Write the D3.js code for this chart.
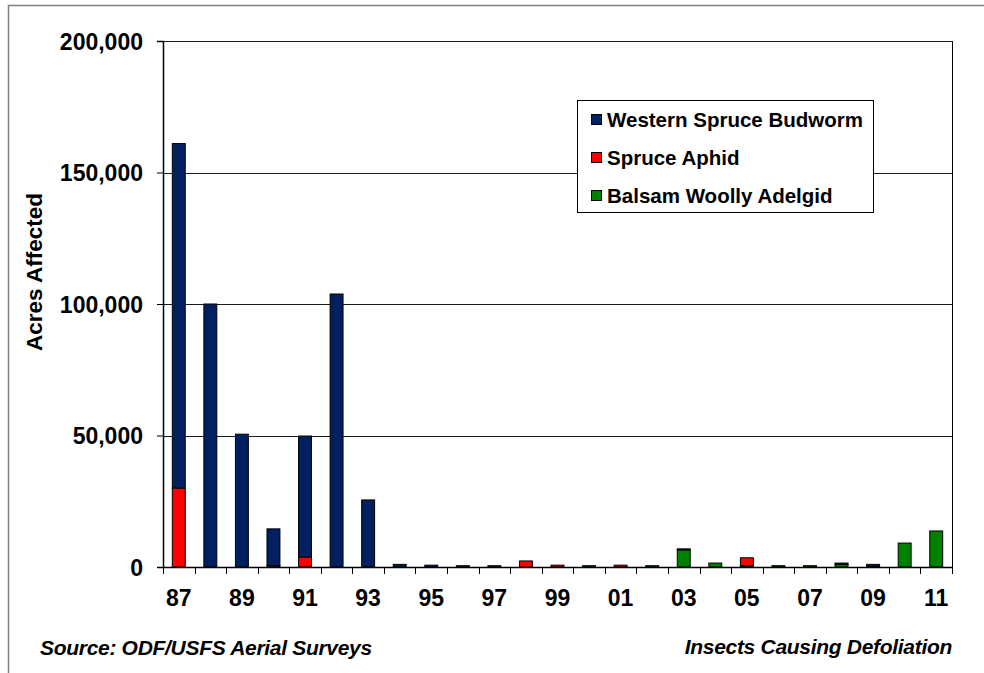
<!DOCTYPE html>
<head>
  <meta charset="utf-8">
  <title>Insects Causing Defoliation</title>
  <script src="https://d3js.org/d3.v7.min.js"></script>
  <style>
    body { margin: 0; background: #fff; }
    text { font-family: Arial, "Liberation Sans", sans-serif; fill: #000; }
  </style>
</head>
<body>
  <div id="root"></div>
  <script>
    // Years 1987 - 2011, shown as two digit labels
    var years = ["87","88","89","90","91","92","93","94","95","96","97","98","99",
                 "00","01","02","03","04","05","06","07","08","09","10","11"];

    // Acres affected, one value per year
    var westernSpruceBudworm = [131000, 100000, 50500, 14000, 46000, 103800, 25500, 1000, 700, 0, 0, 0, 0,
                                0, 0, 0, 400, 0, 0, 0, 0, 500, 700, 0, 0];
    var spruceAphid = [30000, 0, 0, 500, 3800, 0, 0, 0, 0, 0, 0, 2300, 700,
                       0, 700, 0, 0, 0, 3000, 0, 0, 0, 0, 0, 0];
    var balsamWoollyAdelgid = [0, 0, 0, 0, 0, 0, 0, 0, 0, 500, 500, 0, 0,
                               500, 0, 500, 6500, 1500, 500, 500, 500, 1000, 300, 9100, 13700];

    var seriesNames = ["Western Spruce Budworm", "Spruce Aphid", "Balsam Woolly Adelgid"];
    var yTicks = [0, 50000, 100000, 150000, 200000];

    // stacking order: adelgid at the bottom, budworm on top
    var stackKeys = ["bwa", "sa", "wsb"];
    var colors = { wsb: "#002060", sa: "#ff0000", bwa: "#008000" };

    var table = years.map(function(y, i) {
      return { year: y, wsb: westernSpruceBudworm[i], sa: spruceAphid[i], bwa: balsamWoollyAdelgid[i] };
    });

    var W = 984, H = 673;
    var margin = {top: 41, right: 32, bottom: 106, left: 163},
        width = 952 - margin.left,
        height = 567 - margin.top;

    var svg = d3.select("#root")
      .append("svg")
        .attr("width", W)
        .attr("height", H);

    // outer frame
    svg.append("rect")
      .attr("x", 8.5).attr("y", 5.5)
      .attr("width", 990).attr("height", 700)
      .style("fill", "none")
      .style("stroke", "#7f7f7f")
      .style("stroke-width", 1.5);

    var g = svg.append("g")
      .attr("transform", "translate(" + margin.left + "," + margin.top + ")");

    // ---------------------------//
    //       AXIS  AND SCALE      //
    // ---------------------------//
    var x = d3.scaleBand()
      .domain(years)
      .range([0, width])
      .paddingInner(0.59)
      .paddingOuter(0.295);

    var y = d3.scaleLinear()
      .domain([0, 200000])
      .range([height, 0]);

    // gridlines
    g.append("g")
      .selectAll("line")
      .data(yTicks.filter(function(d) { return d > 0; }))
      .enter()
      .append("line")
        .attr("x1", 0)
        .attr("x2", width)
        .attr("y1", function(d) { return Math.round(y(d)) + 0.5; })
        .attr("y2", function(d) { return Math.round(y(d)) + 0.5; })
        .style("stroke", "#1a1a1a")
        .style("stroke-width", 1);

    // right border of plot area
    g.append("line")
      .attr("x1", width + 0.5).attr("x2", width + 0.5)
      .attr("y1", 0).attr("y2", height)
      .style("stroke", "#000");

    // Y axis
    var yAxis = g.append("g")
      .call(d3.axisLeft(y).tickValues(yTicks).tickFormat(d3.format(",")).tickSize(6).tickPadding(14));
    yAxis.select(".domain").style("stroke", "#000").style("stroke-width", 1.5);
    yAxis.selectAll(".tick line").style("stroke", "#000");
    yAxis.selectAll("text")
      .style("font-size", "23px")
      .style("font-weight", "bold")
      .attr("dy", "0.36em");

    // bars
    var stacked = d3.stack().keys(stackKeys)(table);

    g.append("g")
      .selectAll("g")
      .data(stacked)
      .enter()
      .append("g")
        .style("fill", function(d) { return colors[d.key]; })
      .selectAll("rect")
      .data(function(d) { return d; })
      .enter()
      .filter(function(d) { return d[1] > d[0]; })
      .append("rect")
        .attr("x", function(d) { return x(d.data.year); })
        .attr("y", function(d) { return y(d[1]); })
        .attr("width", x.bandwidth())
        .attr("height", function(d) { return y(d[0]) - y(d[1]); })
        .style("stroke", "#000")
        .style("stroke-width", 1);

    // X axis: ticks between categories, labels every other year
    var xAxisG = g.append("g")
      .attr("transform", "translate(0," + height + ")");
    xAxisG.append("line")
      .attr("x1", 0).attr("x2", width)
      .attr("y1", 0.5).attr("y2", 0.5)
      .style("stroke", "#000")
      .style("stroke-width", 1.5);
    var step = x.step();
    xAxisG.selectAll(".xtick")
      .data(d3.range(years.length + 1))
      .enter()
      .append("line")
        .attr("x1", function(i) { return Math.round(i * step) + 0.5; })
        .attr("x2", function(i) { return Math.round(i * step) + 0.5; })
        .attr("y1", 0).attr("y2", 7)
        .style("stroke", "#000");
    xAxisG.selectAll(".xlabel")
      .data(years.filter(function(d, i) { return i % 2 === 0; }))
      .enter()
      .append("text")
        .attr("x", function(d) { return x(d) + x.bandwidth() / 2; })
        .attr("y", 39)
        .attr("text-anchor", "middle")
        .style("font-size", "23px")
        .style("font-weight", "bold")
        .text(function(d) { return d; });

    // Y axis label
    svg.append("text")
      .attr("transform", "translate(42,272) rotate(-90)")
      .attr("text-anchor", "middle")
      .style("font-size", "22.5px")
      .style("font-weight", "bold")
      .text("Acres Affected");

    // ---------------------------//
    //       LEGEND               //
    // ---------------------------//
    var legend = svg.append("g").attr("transform", "translate(577,100)");
    legend.append("rect")
      .attr("x", 0.5).attr("y", 0.5)
      .attr("width", 296).attr("height", 112)
      .style("fill", "#fff")
      .style("stroke", "#000");
    var legendKeys = ["wsb", "sa", "bwa"];
    legend.selectAll("rect.sw")
      .data(legendKeys)
      .enter()
      .append("rect")
        .attr("class", "sw")
        .attr("x", 14.5)
        .attr("y", function(d, i) { return 14.5 + i * 38; })
        .attr("width", 10)
        .attr("height", 10)
        .style("fill", function(d) { return colors[d]; })
        .style("stroke", "#000");
    legend.selectAll("text")
      .data(seriesNames)
      .enter()
      .append("text")
        .attr("x", 30)
        .attr("y", function(d, i) { return 27 + i * 38; })
        .style("font-size", "20.5px")
        .style("font-weight", "bold")
        .text(function(d) { return d; });

    // footer notes
    svg.append("text")
      .attr("x", 40).attr("y", 655)
      .style("font-size", "21px")
      .style("font-weight", "bold")
      .style("font-style", "italic")
      .style("letter-spacing", "-0.3px")
      .text("Source: ODF/USFS Aerial Surveys");
    svg.append("text")
      .attr("x", 952).attr("y", 654)
      .attr("text-anchor", "end")
      .style("font-size", "21px")
      .style("font-weight", "bold")
      .style("font-style", "italic")
      .style("letter-spacing", "-0.3px")
      .text("Insects Causing Defoliation");
  </script>
</body>
